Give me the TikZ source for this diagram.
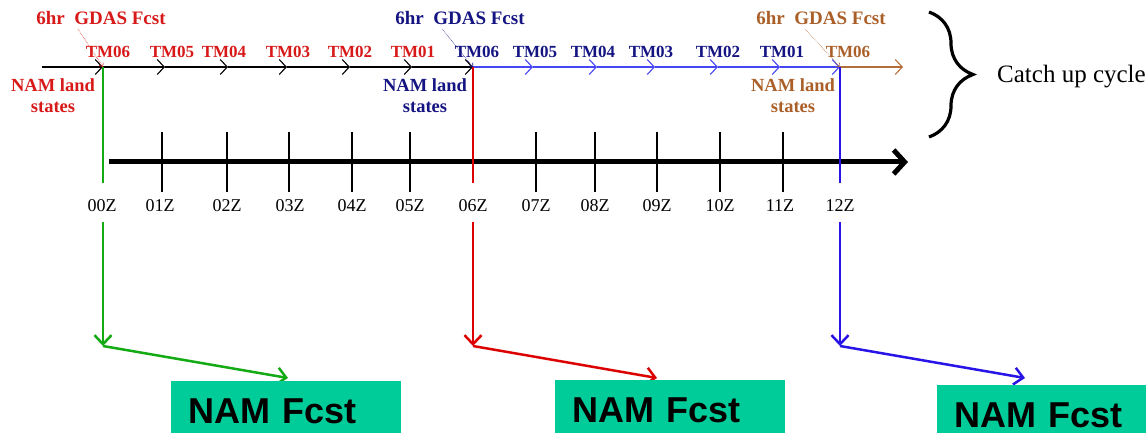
\documentclass[tikz,border=0pt]{standalone}
\usepackage{fontspec}
\setmainfont{Liberation Serif}
\newfontfamily\arialfont{Liberation Sans}
\usetikzlibrary{arrows.meta,decorations.pathreplacing}
\definecolor{redtxt}{RGB}{215,25,25}
\definecolor{navytxt}{RGB}{20,20,130}
\definecolor{browntxt}{RGB}{170,95,40}
\definecolor{bluearr}{RGB}{70,70,245}
\definecolor{brownarr}{RGB}{180,110,60}
\definecolor{greenln}{RGB}{20,170,20}
\definecolor{redln}{RGB}{220,0,0}
\definecolor{blueln}{RGB}{40,20,230}
\definecolor{boxc}{RGB}{0,204,153}
\tikzset{
  hdr/.style={font=\fontsize{19}{19}\selectfont\bfseries, anchor=base, inner sep=0pt},
  tmlbl/.style={font=\fontsize{17}{17}\selectfont\bfseries, anchor=base, inner sep=0pt},
  landlbl/.style={font=\fontsize{18.5}{18.5}\selectfont\bfseries, anchor=base, inner sep=0pt},
  zlbl/.style={font=\fontsize{18}{18}\selectfont, anchor=base, inner sep=0pt},
  seg/.style={line width=1.1pt, -{Straight Barb[length=7pt,width=15pt]}},
  leader/.style={line width=0.6pt, densely dotted, -{Straight Barb[length=3pt,width=5pt]}},
  tick/.style={line width=2pt},
  vline/.style={line width=2.5pt},
  varr/.style={line width=2.5pt, -{Straight Barb[length=9pt,width=17pt]}},
  fbox/.style={fill=boxc, font=\arialfont\bfseries\fontsize{36}{36}\selectfont,
    anchor=north west, minimum height=60pt, minimum width=230pt,
    inner xsep=17pt, text width=196pt, align=left},
}
\begin{document}
\begin{tikzpicture}[x=1pt,y=-1pt]
\useasboundingbox (0,0) rectangle (1146,433);

% top cycle coordinates
\foreach \i/\x in {0/42,1/103,2/165,3/228,4/287,5/350,6/412,7/473,8/533,9/597,10/655,11/718,12/780,13/840,14/903}
  \coordinate (p\i) at (\x,67);

% top headers
\node[hdr, text=redtxt] (h1) at (101,25) {6hr\ \ GDAS Fcst};
\node[hdr, text=navytxt] (h2) at (460,25) {6hr\ \ GDAS Fcst};
\node[hdr, text=browntxt] (h3) at (821,25) {6hr\ \ GDAS Fcst};

% TM labels
\foreach \x/\t in {108/TM06,172/TM05,224/TM04,288/TM03,350/TM02,413/TM01}
  \node[tmlbl, text=redtxt] (r\t) at (\x,58) {\t};
\foreach \x/\t in {477/TM06,535/TM05,593/TM04,651/TM03,718/TM02,782/TM01}
  \node[tmlbl, text=navytxt] (b\t) at (\x,58) {\t};
\node[tmlbl, text=browntxt] (wTM06) at (848,58) {TM06};

% NAM land states
\node[landlbl, text=redtxt] (rl1) at (53,92) {NAM land};
\node[landlbl, text=redtxt] (rl2) at (53,113) {states};
\node[landlbl, text=navytxt] (bl1) at (425,92) {NAM land};
\node[landlbl, text=navytxt] (bl2) at (425,113) {states};
\node[landlbl, text=browntxt] (wl1) at (793,92) {NAM land};
\node[landlbl, text=browntxt] (wl2) at (793,113) {states};

% cycle arrows
\foreach \a/\b in {0/1,1/2,2/3,3/4,4/5,5/6,6/7}
  \draw[seg, black] (p\a) -- (p\b);
\foreach \a/\b in {7/8,8/9,9/10,10/11,11/12,12/13}
  \draw[seg, bluearr] (p\a) -- (p\b);
\draw[seg, brownarr] (p13) -- (p14);

% leaders
\coordinate (q1) at (78,29);
\coordinate (q2) at (442,29);
\coordinate (q3) at (805,29);
\draw[leader, redtxt] (q1) -- (p1);
\draw[leader, navytxt] (q2) -- (p7);
\draw[leader, brownarr] (q3) -- (p13);

% brace
\draw[line width=3.2pt, decorate, decoration={brace, amplitude=44pt}] (929,12) -- (929,137);
\node[font=\fontsize{25}{25}\selectfont, anchor=base west, inner sep=0pt] (cuc) at (997,83) {Catch up cycle};

% timeline
\coordinate (t0) at (109,162);
\coordinate (t1) at (908,162);
\foreach \x in {162,227,289,352,410,536,595,657,720,783}
  \draw[tick] (\x,132) -- (\x,192);
\draw[line width=5pt, -{Straight Barb[length=11pt,width=24pt]}] (t0) -- (t1);

% Z labels
\foreach \x/\t in {102/00Z,160/01Z,227/02Z,290/03Z,352/04Z,410/05Z,473/06Z,536/07Z,595/08Z,657/09Z,720/10Z,780/11Z,840/12Z}
  \node[zlbl] (z\t) at (\x,211) {\t};

% coloured verticals
\coordinate (g1) at (103,183); \coordinate (g2) at (103,222); \coordinate (g3) at (103,346);
\coordinate (g4) at (288,378);
\coordinate (c1) at (473,183); \coordinate (c2) at (473,222); \coordinate (c3) at (473,346);
\coordinate (c4) at (657,378);
\coordinate (d1) at (840,183); \coordinate (d2) at (840,222); \coordinate (d3) at (840,346);
\coordinate (d4) at (1025,378);

\draw[vline, greenln] (p1) -- (g1);
\draw[varr, greenln] (g2) -- (g3);
\draw[varr, greenln] (g3) -- (g4);
\draw[vline, redln] (p7) -- (c1);
\draw[varr, redln] (c2) -- (c3);
\draw[varr, redln] (c3) -- (c4);
\draw[vline, blueln] (p13) -- (d1);
\draw[varr, blueln] (d2) -- (d3);
\draw[varr, blueln] (d3) -- (d4);

% NAM Fcst boxes
\node[fbox] (f1) at (171,381) {NAM Fcst};
\node[fbox] (f2) at (555,380) {NAM Fcst};
\node[fbox] (f3) at (937,385) {NAM Fcst};
\end{tikzpicture}
\end{document}
